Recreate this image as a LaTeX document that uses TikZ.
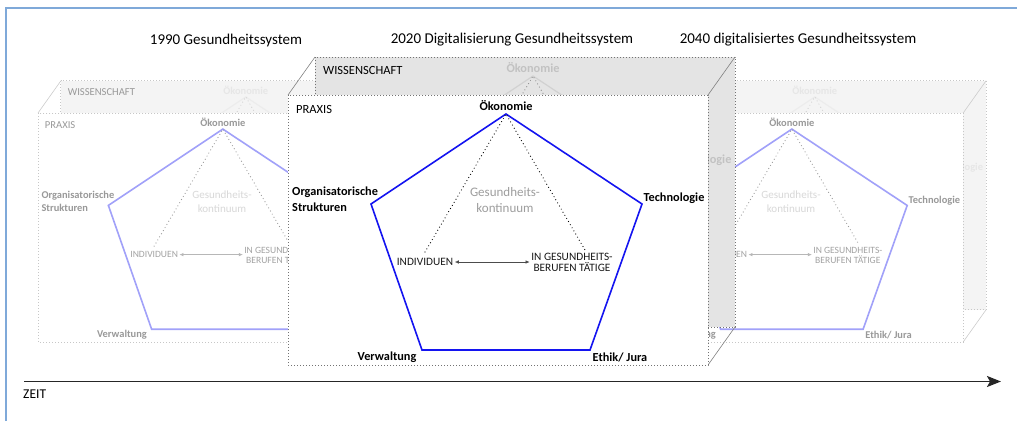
\documentclass[tikz,border=0pt]{standalone}
\usepackage{fontspec}
\setmainfont{Carlito}
\usetikzlibrary{arrows.meta}
\definecolor{framecol}{HTML}{7FA9D9}
\definecolor{backfill}{HTML}{E4E4E4}
\definecolor{pentblue}{HTML}{1414F0}
\tikzset{
  pent/.style={draw=pentblue, line width=1.6pt, line join=miter},
  lab/.style={font=\fontsize{12.3}{15.7}\selectfont\bfseries, text=black, inner sep=1pt},
  gesu/.style={font=\fontsize{13}{16.6}\selectfont, text=black!38, align=center, inner sep=0pt},
  small/.style={font=\fontsize{11.3}{11.7}\selectfont, text=black!90, inner sep=1.5pt},
  dots/.style={draw=black, line width=1.2pt, dash pattern=on 0pt off 3.6pt, line cap=round},
  relarrow/.style={draw=black!70, line width=0.6pt, {Latex[length=4pt,width=3.5pt]}-{Latex[length=4pt,width=3.5pt]}},
  border/.style={draw=black!55, line width=0.9pt, dash pattern=on 0.9pt off 2.1pt},
  diag/.style={draw=black!50, line width=0.6pt},
  facelab/.style={font=\fontsize{12.5}{15}\selectfont, text=black, anchor=west, inner sep=0pt},
  title/.style={font=\fontsize{15}{18}\selectfont, text=black, inner sep=0pt},
  backstyle/.style={
    pent/.style={draw=black!18, line width=1.2pt},
    lab/.style={font=\fontsize{12.3}{15.7}\selectfont\bfseries, text=black!24, inner sep=1pt},
    gesu/.style={font=\fontsize{13}{16.6}\selectfont, text=black!20, align=center, inner sep=0pt},
    small/.style={font=\fontsize{11.3}{11.7}\selectfont, text=black!30, inner sep=1.5pt},
    dots/.style={draw=black!45, line width=1.2pt, dash pattern=on 0pt off 3.6pt, line cap=round},
    relarrow/.style={draw=black!25, line width=0.6pt, {Latex[length=4pt,width=3.5pt]}-{Latex[length=4pt,width=3.5pt]}}
  }
}
\newcommand\cubecontent{%
  \draw[pent] (218,19) -- (354,109) -- (302,255) -- (134,255) -- (83,109) -- cycle;
  \draw[dots] (137,157) -- (218,19) -- (297,155);
  \node[gesu] (gk) at (217,105) {Gesundheits-\\kontinuum};
  \node[lab] (oek) at (218,11) {Ökonomie};
  \node[lab, align=left, anchor=west] (org) at (3,104) {Organisatorische\\Strukturen};
  \node[lab] (tech) at (386,103) {Technologie};
  \node[lab] (verw) at (99,262) {Verwaltung};
  \node[lab] (eth) at (332,262) {Ethik/ Jura};
  \node[small] (ind) at (137,167) {INDIVIDUEN};
  \node[small, align=center] (ges) at (284,167.5) {IN GESUNDHEITS-\\BERUFEN TÄTIGE};
  \draw[relarrow] (ind.east) -- (ind.east -| ges.west);
}
\newcommand\onecube{%
  \fill[backfill] (27,-38) rectangle (447,232);
  \begin{scope}
    \clip (27,-38) rectangle (447,232);
    \begin{scope}[shift={(27,-38)}, backstyle]
      \cubecontent
    \end{scope}
  \end{scope}
  \draw[border] (27,-38) rectangle (447,232);
  \draw[diag] (0,0) -- (27,-38) (420,0) -- (447,-38) (420,270) -- (447,232);
  \fill[white] (0,0) rectangle (420,270);
  \draw[border] (0,0) rectangle (420,270);
  \cubecontent
  \node[facelab] (prax) at (8,14) {PRAXIS};
  \node[facelab] (wiss) at (35,-25) {WISSENSCHAFT};
}
\newcommand\fadecube{%
  \fill[white, opacity=0.6] (-2,272) -- (-2,-2) -- (26,-40) -- (449,-40) -- (449,234) -- (421,272) -- cycle;
}
\begin{document}
\begin{tikzpicture}[x=1pt, y=-1pt]
  \useasboundingbox (0,0) rectangle (1017,421);
  % frame
  \coordinate (fa) at (5.5,421);
  \coordinate (fb) at (5.5,7.5);
  \coordinate (fc) at (1017,7.5);
  \draw[framecol, line width=2pt] (fa) -- (fb) -- (fc);
  % titles
  \node[title] (t1) at (226,40) {1990 Gesundheitssystem};
  \node[title] (t2) at (512,40) {2020 Digitalisierung Gesundheitssystem};
  \node[title] (t3) at (798,40) {2040 digitalisiertes Gesundheitssystem};
  % left cube
  \begin{scope}[shift={(38,113)}, scale=0.848, transform shape]
    \onecube
    \fadecube
  \end{scope}
  % right cube
  \begin{scope}[shift={(607,113)}, scale=0.848, transform shape]
    \onecube
    \fadecube
  \end{scope}
  % middle cube
  \begin{scope}[shift={(288,95)}]
    \onecube
  \end{scope}
  % time axis
  \coordinate (zs) at (24,381.5);
  \coordinate (ze) at (1001,381.5);
  \draw[black!85, line width=1.8pt, -{Stealth[length=14pt,width=11pt,inset=3pt]}] (zs) -- (ze);
  \node[font=\fontsize{13.5}{16}\selectfont, anchor=west, inner sep=0pt] (zeit) at (23,394) {ZEIT};
\end{tikzpicture}
\end{document}
